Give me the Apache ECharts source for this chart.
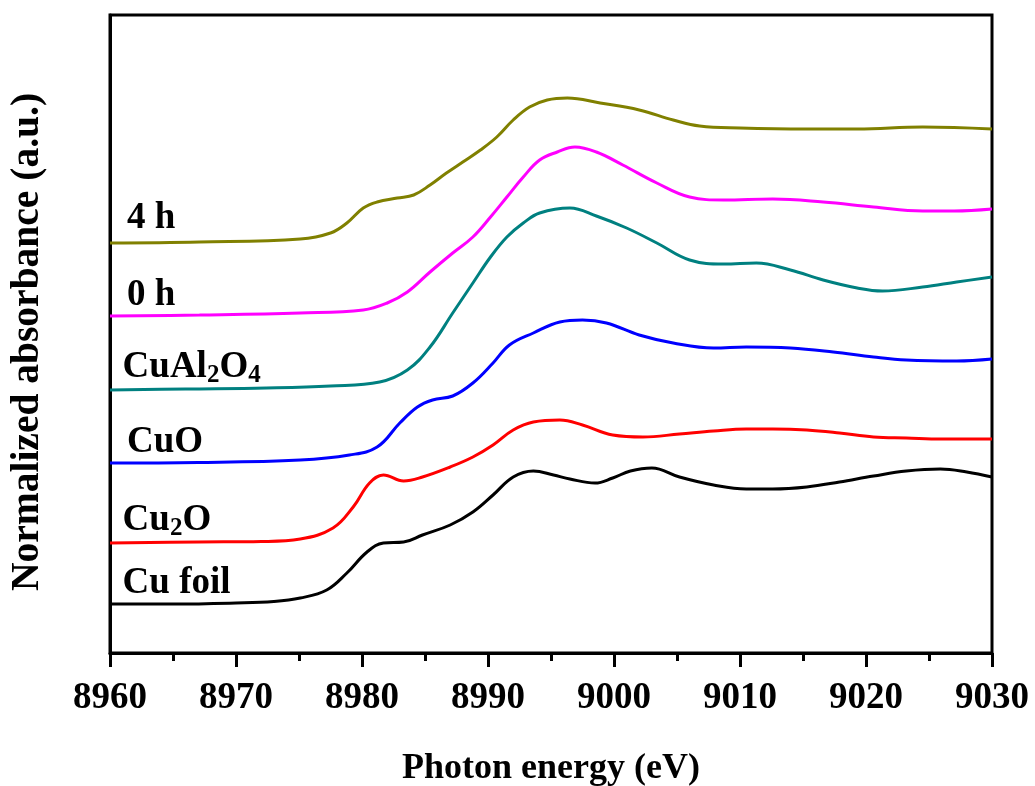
<!DOCTYPE html>
<html>
<head>
<meta charset="utf-8">
<script src="https://cdn.jsdelivr.net/npm/echarts@6/dist/echarts.min.js"></script>
<style>html,body{margin:0;padding:0;background:#fff;}#c{width:1035px;height:786px;}</style>
</head>
<body>
<div id="c"></div>
<script>
// Energy (eV) and offset normalized absorbance (a.u.)
const cuFoil = [[8960,0.49],[8965,0.49],[8970,0.50],[8973,0.515],[8975.1,0.55],[8977.2,0.63],[8978.8,0.80],[8980.4,1.01],[8981.7,1.10],[8983.3,1.11],[8984.8,1.18],[8987,1.28],[8988.8,1.41],[8990.4,1.58],[8992,1.76],[8993.6,1.82],[8995.2,1.78],[8996.5,1.74],[8998.5,1.70],[8999.9,1.75],[9001.3,1.82],[9003,1.85],[9005.2,1.76],[9007.9,1.68],[9010.5,1.64],[9012.6,1.64],[9015.3,1.66],[9017.9,1.71],[9020.6,1.77],[9023.2,1.82],[9025.9,1.84],[9028,1.81],[9030,1.76]];
const cu2O = [[8960,1.10],[8967,1.11],[8972,1.115],[8975.1,1.14],[8977.7,1.25],[8979.3,1.46],[8980.6,1.70],[8981.7,1.78],[8983.3,1.72],[8984.8,1.76],[8987,1.86],[8988.8,1.96],[8990.4,2.08],[8992,2.23],[8993.6,2.31],[8995.7,2.33],[8997.5,2.28],[8999.9,2.18],[9002.3,2.16],[9005.2,2.19],[9007.9,2.22],[9010.5,2.24],[9012.6,2.24],[9015.3,2.23],[9017.9,2.20],[9020.6,2.16],[9023.2,2.15],[9026,2.14],[9030,2.14]];
const cuO = [[8960,1.90],[8967,1.905],[8975.1,1.93],[8979,1.98],[8981.2,2.06],[8983,2.30],[8984.4,2.46],[8985.6,2.53],[8987.2,2.57],[8988.8,2.70],[8990.4,2.90],[8991.7,3.08],[8993.6,3.20],[8995.7,3.31],[8997.5,3.33],[8999.4,3.30],[9002,3.18],[9004.7,3.10],[9007.9,3.05],[9010.5,3.06],[9014,3.05],[9017.4,3.01],[9020.6,2.96],[9023.2,2.93],[9027.2,2.92],[9030,2.94]];
const cuAl2O4 = [[8960,2.63],[8966,2.64],[8972.4,2.65],[8977.5,2.67],[8981.4,2.71],[8983.6,2.83],[8985.4,3.06],[8987.2,3.40],[8988.8,3.70],[8990.2,3.96],[8991.5,4.16],[8992.8,4.30],[8994.1,4.40],[8996.5,4.45],[8998.6,4.37],[9001,4.25],[9003.4,4.10],[9006,3.93],[9008.7,3.89],[9011.3,3.90],[9014,3.83],[9016.6,3.73],[9019.3,3.65],[9021.3,3.62],[9024.5,3.66],[9027.2,3.71],[9030,3.76]];
const h0 = [[8960,3.37],[8967.1,3.38],[8975.1,3.40],[8980.1,3.43],[8982,3.50],[8983.6,3.61],[8985.4,3.81],[8987.2,4.00],[8988.8,4.16],[8990.2,4.36],[8991.5,4.56],[8992.8,4.76],[8994.1,4.93],[8995.5,5.01],[8996.9,5.06],[8998.6,5.01],[9000.7,4.88],[9003.4,4.70],[9006,4.56],[9008.7,4.53],[9012.6,4.54],[9016.6,4.51],[9020.6,4.46],[9024.5,4.42],[9027,4.42],[9030,4.44]];
const h4 = [[8960,4.10],[8967.1,4.11],[8975.1,4.14],[8977.5,4.20],[8978.8,4.30],[8980.1,4.45],[8981.2,4.51],[8982.8,4.55],[8984.1,4.58],[8985.4,4.68],[8986.7,4.80],[8988,4.91],[8989.4,5.03],[8990.7,5.16],[8992,5.33],[8993.3,5.46],[8994.7,5.53],[8996.3,5.55],[8998.9,5.50],[9002,5.43],[9004.7,5.33],[9006.8,5.27],[9010,5.25],[9015.3,5.24],[9019.3,5.24],[9024.5,5.26],[9030,5.24]];

const seriesNames = ['Cu foil','Cu2O','CuO','CuAl2O4','0 h','4 h'];
const seriesData = [cuFoil, cu2O, cuO, cuAl2O4, h0, h4];
const seriesColors = ['#000000','#ff0000','#0000ff','#008080','#ff00ff','#808000'];
// rich-text label and its anchor (energy, value) for each curve
const labelTexts = ['{a|Cu foil}','{a|Cu}{s|2}{a|O}','{a|CuO}','{a|CuAl}{s|2}{a|O}{s|4}','{a|0 h}','{a|4 h}'];
const labelAnchors = [[8961.0,0.70],[8961.0,1.33],[8961.35,2.11],[8961.0,2.86],[8961.35,3.58],[8961.35,4.35]];

const xMin = 8960, xMax = 9030, xStep = 10;
const yMin = 0, yMax = 6.38;

const FONT = "'Liberation Serif','Times New Roman',serif";
const chart = echarts.init(document.getElementById('c'), null, {renderer:'canvas'});

const series = seriesData.map((d, i) => ({
  name: seriesNames[i],
  type: 'line',
  data: d,
  smooth: 0.4,
  showSymbol: false,
  symbol: 'none',
  lineStyle: {color: seriesColors[i], width: 3},
  itemStyle: {color: seriesColors[i]},
  z: 3,
  markPoint: {
    symbol: 'circle', symbolSize: 0, silent: true,
    data: [{
      coord: labelAnchors[i],
      label: {
        show: true, position: 'right', distance: 0,
        formatter: labelTexts[i],
        rich: {
          a: {fontFamily: FONT, fontWeight: 'bold', fontSize: 37, color: '#000', lineHeight: 42},
          s: {fontFamily: FONT, fontWeight: 'bold', fontSize: 25, color: '#000', lineHeight: 23, verticalAlign: 'bottom'}
        }
      }
    }]
  }
}));

chart.setOption({
  animation: false,
  backgroundColor: '#fff',
  grid: {left: 110, right: 43, top: 15, bottom: 133, show: true, borderColor: '#000', borderWidth: 3,
    backgroundColor: 'transparent', containLabel: false, outerBoundsMode: 'none'},
  xAxis: {
    type: 'value', min: xMin, max: xMax, interval: xStep,
    name: 'Photon energy (eV)', nameLocation: 'middle', nameGap: 98,
    nameTextStyle: {fontFamily: FONT, fontWeight: 'bold', fontSize: 36, color: '#000'},
    axisLine: {show: true, lineStyle: {color: '#000', width: 3}},
    axisTick: {show: true, inside: false, length: 14, lineStyle: {color: '#000', width: 3}},
    minorTick: {show: true, splitNumber: 2, length: 8, lineStyle: {color: '#000', width: 3}},
    axisLabel: {fontFamily: FONT, fontWeight: 'bold', fontSize: 37, color: '#000', margin: 27,
      formatter: v => String(v)},
    splitLine: {show: false}
  },
  yAxis: {
    type: 'value', min: yMin, max: yMax,
    name: 'Normalized absorbance (a.u.)', nameLocation: 'middle', nameGap: 62,
    nameTextStyle: {fontFamily: FONT, fontWeight: 'bold', fontSize: 39.5, color: '#000', padding: [0, 16, 0, 0]},
    axisLine: {show: true, lineStyle: {color: '#000', width: 3}},
    axisTick: {show: false},
    axisLabel: {show: false},
    splitLine: {show: false}
  },
  series: series
});
</script>
</body>
</html>
